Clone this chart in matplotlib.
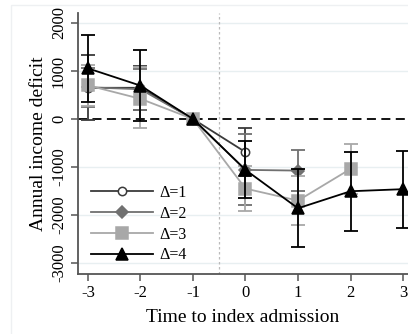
import matplotlib
matplotlib.use("Agg")
import matplotlib.pyplot as plt
from matplotlib.patches import Rectangle
import numpy as np

plt.rcParams['font.family'] = ['Liberation Serif', 'DejaVu Serif']
plt.rcParams['axes.unicode_minus'] = False

labels = ["Δ=1", "Δ=2", "Δ=3", "Δ=4"]
t1 = [-3, -2, -1, 0]
v1 = [650, 650, 0, -690]
lo1 = [-20, 190, 0, -1190]
hi1 = [1340, 1100, 0, -190]

t2 = [-3, -2, -1, 0, 1]
v2 = [660, 620, 0, -1060, -1075]
lo2 = [250, 190, 0, -1800, -1500]
hi2 = [1070, 1040, 0, -320, -650]

t3 = [-3, -2, -1, 0, 1, 2]
v3 = [700, 420, 0, -1450, -1700, -1040]
lo3 = [270, -195, 0, -1920, -2210, -1570]
hi3 = [1130, 1080, 0, -980, -1190, -515]

t4 = [-3, -2, -1, 0, 1, 2, 3]
v4 = [1055, 695, 0, -1060, -1860, -1505, -1462]
lo4 = [360, -50, 0, -1655, -2675, -2340, -2262]
hi4 = [1755, 1437, 0, -460, -1050, -693, -667]

series = [
    (t1, v1, lo1, hi1, dict(color="#3a3a3a", marker="o", ms=6, mfc="white", mec="#3a3a3a")),
    (t2, v2, lo2, hi2, dict(color="#707070", marker="D", ms=6, mfc="#707070", mec="#707070")),
    (t3, v3, lo3, hi3, dict(color="#a8a8a8", marker="s", ms=8, mfc="#a8a8a8", mec="#a8a8a8")),
    (t4, v4, lo4, hi4, dict(color="#000000", marker="^", ms=8.5, mfc="#000000", mec="#000000")),
]

fig = plt.figure(figsize=(4.08, 3.34), dpi=100)
fig.patch.set_facecolor("white")
fig.patches.append(Rectangle((11/408, -0.1), 1.2, 1.1 - 5/334, transform=fig.transFigure,
                             fill=False, ec="#eef0f2", lw=1.0, zorder=0))
ax = fig.add_axes([78/408, 1 - 274/334, 1 - 78/408, (274 - 13)/334])

for y in [-3000, -2000, -1000, 1000, 2000]:
    ax.axhline(y, color="#e8eff1", lw=1.0, zorder=0)
ax.axhline(0, color="black", lw=1.3, ls=(0, (5, 3)), zorder=1)
ax.axvline(-0.5, color="#bbbbbb", lw=0.9, ls=(0, (2, 2)), zorder=1)

handles = []
for i, (t, v, lo, hi, st) in enumerate(series):
    t = np.array(t); v = np.array(v); lo = np.array(lo); hi = np.array(hi)
    mask = t != -1
    ax.errorbar(t[mask], v[mask], yerr=[v[mask] - lo[mask], hi[mask] - v[mask]], fmt="none",
                ecolor=st["color"], elinewidth=1.3, capsize=5, capthick=1.3, zorder=2 + i)
    h, = ax.plot(t, v, color=st["color"], lw=1.3, marker=st["marker"], ms=st["ms"],
                 mfc=st["mfc"], mec=st["mec"], mew=1.1, zorder=3 + i, label=labels[i])
    handles.append(h)

ax.set_xlim(-3.19, 3.095)
ax.set_ylim(-3229, 2208)
ax.set_xticks([-3, -2, -1, 0, 1, 2, 3])
ax.set_yticks([-3000, -2000, -1000, 0, 1000, 2000])
ax.set_yticklabels(["-3000", "-2000", "-1000", "0", "1000", "2000"], rotation=90, va="center")
ax.tick_params(labelsize=12, length=5, width=1.1, color="#555555", pad=3)
for s in ["top", "right"]:
    ax.spines[s].set_visible(False)
for s in ["left", "bottom"]:
    ax.spines[s].set_color("#555555")
    ax.spines[s].set_linewidth(1.3)
ax.set_xlabel("Time to index admission", fontsize=14, labelpad=6)
ax.set_ylabel("Annual income deficit", fontsize=14, labelpad=3)

leg = ax.legend(handles=handles, loc="upper left", bbox_to_anchor=(83/408, 1 - 177/334),
                bbox_transform=fig.transFigure, frameon=False, fontsize=11.5,
                handlelength=3.9, handletextpad=0.4, labelspacing=0.3, borderpad=0)

fig.savefig("out.png", dpi=100, facecolor="white")
